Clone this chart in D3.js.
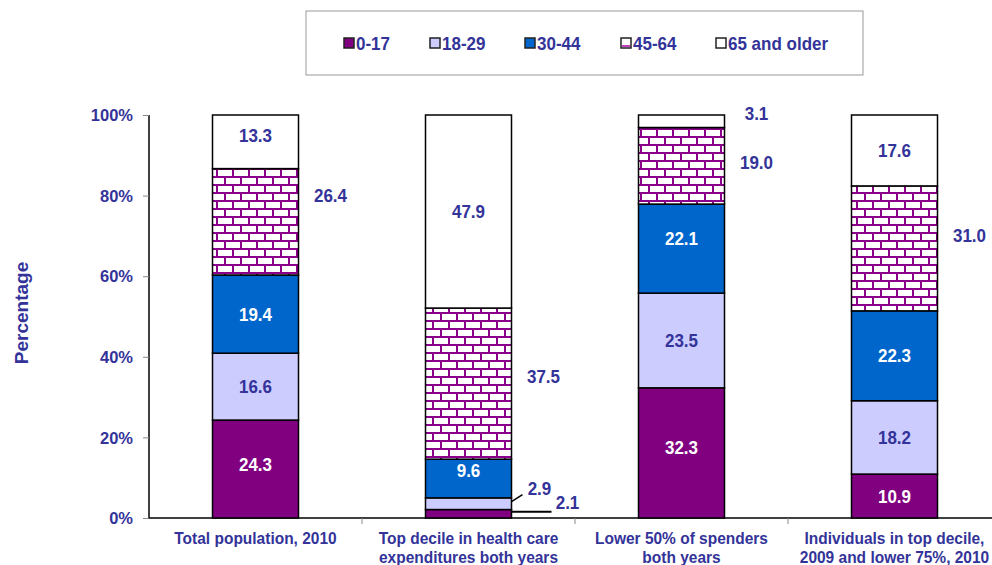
<!DOCTYPE html>
<html><head><meta charset="utf-8">
<script src="https://cdn.jsdelivr.net/npm/d3@7"></script>
<style>
body{margin:0;background:#fff;}
text{font-family:"Liberation Sans",Arial,sans-serif;font-weight:bold;}
text.tall{transform-box:fill-box;transform-origin:center;transform:scaleY(1.1);}
</style></head>
<body><svg id="c" width="992" height="565"></svg>
<script>
const categories = [
  ["Total population, 2010"],
  ["Top decile in health care", "expenditures both years"],
  ["Lower 50% of spenders", "both years"],
  ["Individuals in top decile,", "2009 and lower 75%, 2010"]
];
const seriesNames = ["0-17", "18-29", "30-44", "45-64", "65 and older"];
const s0_17   = [24.3, 2.1, 32.3, 10.9];
const s18_29  = [16.6, 2.9, 23.5, 18.2];
const s30_44  = [19.4, 9.6, 22.1, 22.3];
const s45_64  = [26.4, 37.5, 19.0, 31.0];
const s65plus = [13.3, 47.9, 3.1, 17.6];
const yTicks = [0, 20, 40, 60, 80, 100];

const series = [s0_17, s18_29, s30_44, s45_64, s65plus];
const colors = ["#800080", "#CCCCFF", "#0066CC", "url(#brick)", "#FFFFFF"];
const labelColors = ["#FFFFFF", "#333399", "#FFFFFF", "#333399", "#333399"];
const navy = "#333399";

const svg = d3.select("#c");
const defs = svg.append("defs");
const pat = defs.append("pattern").attr("id", "brick").attr("patternUnits", "userSpaceOnUse")
  .attr("width", 16).attr("height", 16);
pat.append("rect").attr("width", 16).attr("height", 16).attr("fill", "#fff");
const mortar = "#8B008B";
pat.append("rect").attr("x", 0).attr("y", 0).attr("width", 16).attr("height", 2).attr("fill", mortar);
pat.append("rect").attr("x", 0).attr("y", 8).attr("width", 16).attr("height", 2).attr("fill", mortar);
pat.append("rect").attr("x", 0).attr("y", 0).attr("width", 2).attr("height", 8).attr("fill", mortar);
pat.append("rect").attr("x", 8).attr("y", 8).attr("width", 2).attr("height", 8).attr("fill", mortar);

const pLeft = 149, pRight = 1001, pTop = 115, pBottom = 518;
const x = d3.scaleBand().domain(d3.range(categories.length)).range([pLeft, pRight]).padding(0);
const y = d3.scaleLinear().domain([0, 100]).range([pBottom, pTop]);
const barW = 86;

// stacked data
const rows = categories.map((c, i) => {
  const o = {i};
  seriesNames.forEach((s, k) => o[s] = series[k][i]);
  return o;
});
const stacked = d3.stack().keys(seriesNames)(rows);

// y axis
const yAxis = d3.axisLeft(y).tickValues(yTicks).tickFormat(d => d + "%").tickSize(6).tickPadding(10);
const ga = svg.append("g").attr("transform", `translate(${pLeft},0)`).call(yAxis);
ga.select(".domain").attr("stroke", "#000").attr("stroke-width", 1.5).attr("d", `M0,${pTop}V${pBottom}`);
ga.selectAll(".tick line").attr("stroke", "#888");
ga.selectAll(".tick text").attr("fill", navy).style("font-size", "16.5px").attr("dy", "0.35em");

// x axis
const gx = svg.append("g").attr("transform", `translate(0,${pBottom})`);
gx.append("line").attr("x1", pLeft).attr("x2", 992).attr("stroke", "#000").attr("stroke-width", 1.5);
gx.selectAll("line.tk").data(d3.range(1, categories.length + 1)).join("line")
  .attr("x1", d => x.step() * d + pLeft).attr("x2", d => x.step() * d + pLeft)
  .attr("y1", 0).attr("y2", 6).attr("stroke", "#888");
categories.forEach((lines, i) => {
  lines.forEach((l, j) => {
    gx.append("text").attr("class", "cat tall")
      .attr("text-anchor", "middle").attr("fill", navy).style("font-size", "15.5px")
      .attr("x", x(i) + x.bandwidth() / 2).attr("y", 25 + j * 19).text(l);
  });
});

// bars
const g = svg.append("g");
stacked.forEach((layer, k) => {
  g.selectAll(null).data(layer).join("rect")
    .attr("x", (d, i) => x(i) + x.bandwidth() / 2 - barW / 2)
    .attr("width", barW)
    .attr("y", d => y(d[1]))
    .attr("height", d => y(d[0]) - y(d[1]))
    .attr("fill", colors[k])
    .attr("stroke", "#000").attr("stroke-width", 1.5);
});

// labels: inside or outside (with nudges)
const outside = {"0-3": -26, "1-3": -7, "2-3": -3, "3-3": -13, "2-4": -8};
const small = {"1-0": {dx: 56, dy: -11}, "1-1": {dx: 28, dy: -15}};
const inNudge = {"0-0": -5, "0-4": -6, "1-2": -8, "2-0": -5, "2-2": -10};
const lg = svg.append("g");
stacked.forEach((layer, k) => {
  layer.forEach((d, i) => {
    const key = i + "-" + k;
    const cx = x(i) + x.bandwidth() / 2;
    const cy = (y(d[0]) + y(d[1])) / 2;
    let tx = cx, ty = cy + (inNudge[key] || 0), fill = labelColors[k];
    if (key in outside) { tx = cx + barW / 2 + 32; ty = cy + outside[key]; fill = navy; }
    if (key in small) { tx = cx + barW / 2 + small[key].dx; ty = cy + small[key].dy; fill = navy; }
    lg.append("text").attr("class", "tall").attr("x", tx).attr("y", ty).attr("dy", "0.35em")
      .attr("text-anchor", "middle").attr("fill", fill).style("font-size", "17px")
      .text(series[k][i].toFixed(1));
  });
});
// leader lines for small segments of bar 2
{
  const re = x(1) + x.bandwidth() / 2 + barW / 2;
  const c1 = y((s0_17[1] + s0_17[1] + s18_29[1]) / 2);
  const c0 = y(s0_17[1] / 2);
  lg.append("line").attr("x1", re).attr("y1", c1 - 2).attr("x2", re + 11).attr("y2", c1 - 9).attr("stroke", "#000").attr("stroke-width", 1.5);
  lg.append("line").attr("x1", re).attr("y1", c0 - 2).attr("x2", re + 40).attr("y2", c0 - 2).attr("stroke", "#000").attr("stroke-width", 2);
}

// legend
const leg = svg.append("g");
leg.append("rect").attr("x", 306).attr("y", 11).attr("width", 557).attr("height", 64)
  .attr("fill", "#fff").attr("stroke", "#999").attr("stroke-width", 1);
const legX = [344, 430, 525, 621, 716];
seriesNames.forEach((s, k) => {
  leg.append("rect").attr("x", legX[k]).attr("y", 38).attr("width", 10).attr("height", 10)
    .attr("fill", k === 3 ? "#fff" : colors[k]).attr("stroke", "#222").attr("stroke-width", 1.5);
  if (k === 3) leg.append("rect").attr("x", legX[k] + 1).attr("y", 45).attr("width", 8).attr("height", 2).attr("fill", "#c040c0");
  leg.append("text").attr("class", "tall").attr("x", legX[k] + 12).attr("y", 43).attr("dy", "0.35em")
    .attr("fill", navy).style("font-size", "17px").text(s);
});

// y title
svg.append("text").attr("transform", "translate(21,313) rotate(-90)")
  .attr("text-anchor", "middle").attr("dy", "0.35em").attr("fill", navy).style("font-size", "19px").text("Percentage");
</script></body></html>
